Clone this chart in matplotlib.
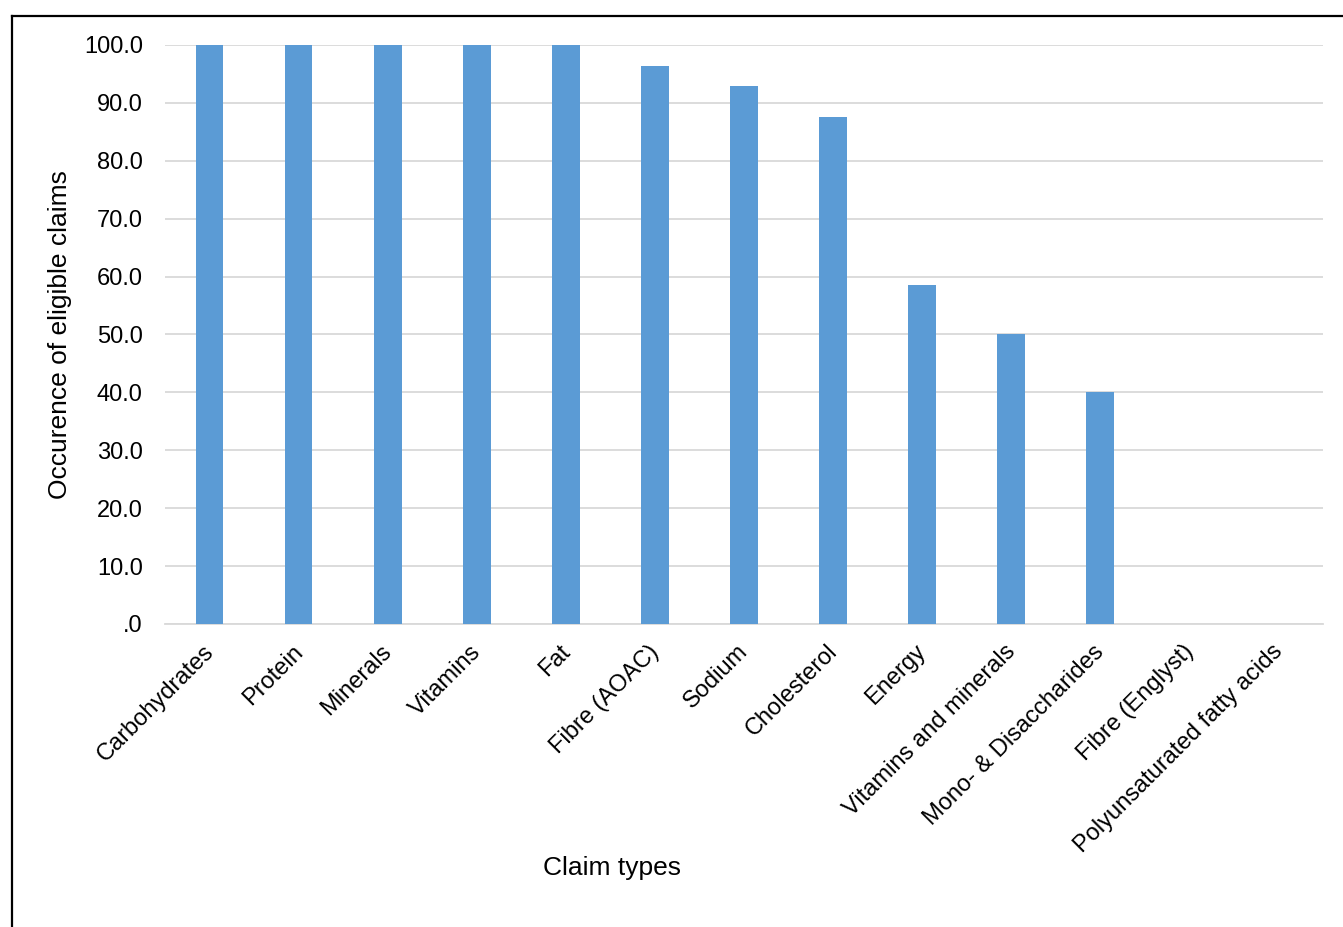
import matplotlib.pyplot as plt
from matplotlib.lines import Line2D
from matplotlib.ticker import FuncFormatter
from matplotlib.transforms import ScaledTranslation

# claim categories and share of products eligible (%)
claim_types = [
    'Carbohydrates', 'Protein', 'Minerals', 'Vitamins', 'Fat', 'Fibre (AOAC)',
    'Sodium', 'Cholesterol', 'Energy', 'Vitamins and minerals',
    'Mono- & Disaccharides', 'Fibre (Englyst)', 'Polyunsaturated fatty acids'
]
occurrence = [100.0, 100.0, 100.0, 100.0, 100.0, 96.4, 92.9, 87.5, 58.6, 50.0, 40.0, 0.0, 0.0]
y_ticks = [0, 10, 20, 30, 40, 50, 60, 70, 80, 90, 100]

plt.rcParams['font.family'] = ['Liberation Sans', 'DejaVu Sans']

fig = plt.figure(figsize=(13.43, 9.27), dpi=100)
ax = fig.add_axes([0.1229, 0.3269, 0.8621, 0.6246])

x = range(len(claim_types))
ax.bar(x, occurrence, width=0.31, color='#5B9BD5', zorder=3)

ax.set_xlim(-0.5, len(claim_types) - 0.5)
ax.set_ylim(0, 100)
ax.set_yticks(y_ticks)


def fmt(v, pos):
    s = '%.1f' % v
    return s[1:] if s.startswith('0') else s


ax.yaxis.set_major_formatter(FuncFormatter(fmt))
ax.grid(axis='y', color='#d9d9d9', linewidth=1.3, zorder=0)
for side in ['top', 'right', 'left']:
    ax.spines[side].set_visible(False)
ax.spines['bottom'].set_color('#d9d9d9')
ax.spines['bottom'].set_linewidth(1.3)
ax.tick_params(length=0, labelsize=17, colors='black')
ax.tick_params(axis='y', pad=16)
ax.tick_params(axis='x', pad=12)

ax.set_xticks(list(x))
ax.set_xticklabels(claim_types, rotation=45, ha='right', va='top',
                   rotation_mode='anchor')
shift = ScaledTranslation(-7 / 100, 0, fig.dpi_scale_trans)
for lbl in ax.get_xticklabels():
    lbl.set_transform(lbl.get_transform() + shift)

ax.set_ylabel('Occurence of eligible claims', fontsize=19)
ax.yaxis.set_label_coords(-0.080, 0.5)
fig.text(612 / 1343, 1 - 868 / 927, 'Claim types', fontsize=19,
         ha='center', va='center')

# outer frame (left and top edges)
fig.add_artist(Line2D([0.0089, 0.0089], [0, 0.9827], color='black', linewidth=1.6,
                      transform=fig.transFigure))
fig.add_artist(Line2D([0.0089, 1.0], [0.9827, 0.9827], color='black', linewidth=1.6,
                      transform=fig.transFigure))

fig.savefig('out.png', dpi=100)
